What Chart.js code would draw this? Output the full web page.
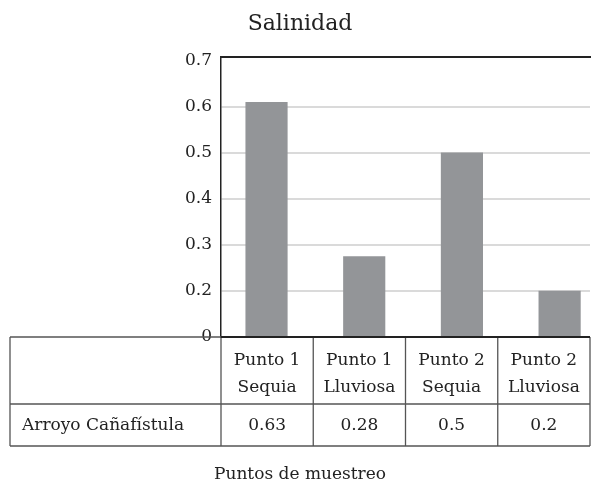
<!DOCTYPE html>
<html><head><meta charset="utf-8">
<script src="https://cdn.jsdelivr.net/npm/chart.js@4"></script>
<style>html,body{margin:0;padding:0;background:#fff}#wrap{width:591px;height:485px}</style>
</head><body><div id="wrap"><canvas id="c" width="591" height="485"></canvas></div>
<script>
const chartTitle = 'Salinidad';
const xAxisTitle = 'Puntos de muestreo';
const seriesName = 'Arroyo Cañafístula';
const categories = [['Punto 1', 'Sequia'], ['Punto 1', 'Lluviosa'], ['Punto 2', 'Sequia'], ['Punto 2', 'Lluviosa']];
const tableValues = ['0.63', '0.28', '0.5', '0.2'];
const barValues = [0.61, 0.275, 0.5, 0.2];
const yTickValues = [0.1, 0.2, 0.3, 0.4, 0.5, 0.6, 0.7];
const yTickLabels = ['0', '0.2', '0.3', '0.4', '0.5', '0.6', '0.7'];

const FONT = '"DejaVu Serif", serif';
const TEXT = '#222';

const tablePlugin = {
  id: 'tablePlugin',
  afterDraw(chart) {
    const ctx = chart.ctx;
    const a = chart.chartArea;
    const top = a.bottom, mid = a.bottom + 67, bot = a.bottom + 109;
    const left = 10, right = a.right;
    const colW = (a.right - a.left) / categories.length;
    ctx.save();
    ctx.strokeStyle = '#222'; ctx.lineWidth = 2;
    ctx.beginPath(); ctx.moveTo(a.left, a.top); ctx.lineTo(chart.width, a.top); ctx.stroke();
    ctx.strokeStyle = '#555'; ctx.lineWidth = 1.3;
    ctx.beginPath();
    ctx.moveTo(left, top); ctx.lineTo(a.left, top);
    ctx.moveTo(left, mid); ctx.lineTo(right, mid);
    ctx.moveTo(left, bot); ctx.lineTo(right, bot);
    ctx.moveTo(left, top); ctx.lineTo(left, bot);
    for (let i = 0; i <= categories.length; i++) {
      const x = a.left + i * colW;
      ctx.moveTo(x, top); ctx.lineTo(x, bot);
    }
    ctx.stroke();
    ctx.strokeStyle = '#222'; ctx.lineWidth = 2;
    ctx.beginPath(); ctx.moveTo(a.left, top); ctx.lineTo(right, top); ctx.stroke();
    ctx.fillStyle = TEXT;
    ctx.font = '17px ' + FONT;
    ctx.textBaseline = 'alphabetic';
    ctx.textAlign = 'center';
    categories.forEach((c, i) => {
      const cx = a.left + (i + 0.5) * colW;
      ctx.fillText(c[0], cx, top + 28);
      ctx.fillText(c[1], cx, top + 55);
      ctx.fillText(tableValues[i], cx, mid + 26);
    });
    ctx.textAlign = 'left';
    ctx.fillText(seriesName, left + 12, mid + 26);
    ctx.textAlign = 'center';
    ctx.fillText(xAxisTitle, 300, 479);
    ctx.font = '22px ' + FONT;
    ctx.fillText(chartTitle, 300, 30);
    ctx.restore();
  }
};

new Chart(document.getElementById('c'), {
  type: 'bar',
  data: {
    datasets: [{
      label: seriesName,
      data: barValues.map((v, i) => ({ x: i, y: v })),
      backgroundColor: '#939598',
      borderWidth: 0,
      barThickness: 41.5
    }]
  },
  options: {
    responsive: false,
    devicePixelRatio: 1,
    animation: false,
    layout: { padding: { left: 0, right: 1, top: 57, bottom: 148 } },
    plugins: { legend: { display: false }, title: { display: false }, tooltip: { enabled: false } },
    scales: {
      x: { type: 'linear', min: -0.466, max: 3.311, offset: false, display: false },
      y: {
        type: 'linear', min: 0.1, max: 0.7085,
        afterBuildTicks: (s) => { s.ticks = yTickValues.map(v => ({ value: v })); },
        afterFit: (s) => { s.width = 221; },
        ticks: {
          padding: 9,
          color: TEXT,
          font: { family: FONT, size: 17 },
          callback: (v, i) => yTickLabels[i]
        },
        grid: {
          drawTicks: false,
          lineWidth: 2,
          color: (c) => (c.tick && (c.tick.value === 0.7 || c.tick.value === 0.1)) ? 'rgba(0,0,0,0)' : '#dadada'
        },
        border: { display: true, color: '#222', width: 1.5 }
      }
    }
  },
  plugins: [tablePlugin]
});
</script>
</body></html>
